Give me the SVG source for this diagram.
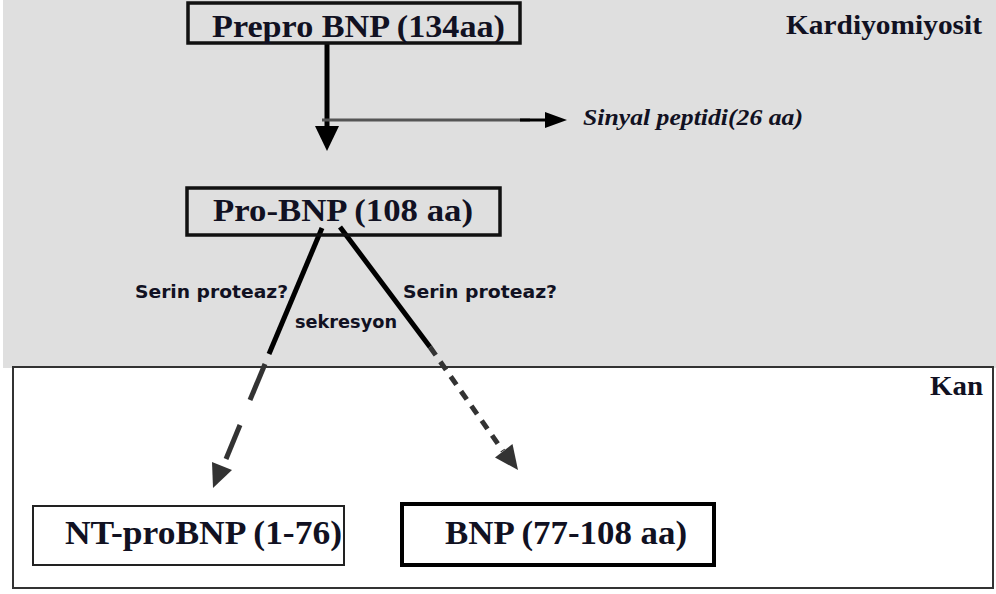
<svg xmlns="http://www.w3.org/2000/svg" width="996" height="594" viewBox="0 0 996 594">
  <style>
    .title { font-family: "Liberation Serif", "Times New Roman", serif; font-weight: bold; fill: #111122; }
    .note { font-family: "DejaVu Sans", "Liberation Sans", sans-serif; font-weight: bold; font-size: 17px; fill: #111122; }
    .box { fill: none; stroke: #111; }
    .solid { stroke: #000; stroke-width: 5; fill: none; }
    .dash { stroke: #333; stroke-width: 5; fill: none; }
    .head { fill: #000; }
    .headg { fill: #333; }
  </style>

  <!-- cell compartment (grey) and blood compartment (white frame) -->
  <rect x="3" y="0" width="993" height="368" fill="#dfdfdf"/>
  <rect id="blood" x="13" y="367" width="980" height="221" fill="#ffffff" stroke="#333" stroke-width="2"/>
  <text class="title" x="786" y="34" font-size="28" textLength="196" lengthAdjust="spacingAndGlyphs">Kardiyomiyosit</text>
  <text class="title" x="930" y="395" font-size="27" textLength="53" lengthAdjust="spacingAndGlyphs">Kan</text>

  <!-- connectors -->
  <g id="connectors">
    <!-- prepro -> pro -->
    <line class="solid" x1="327" y1="42" x2="327" y2="128"/>
    <polygon class="head" points="315,126 339,126 327,151"/>
    <!-- signal peptide branch -->
    <line x1="322" y1="120" x2="530" y2="120" stroke="#555" stroke-width="3"/>
    <line x1="520" y1="120" x2="547" y2="120" stroke="#000" stroke-width="3"/>
    <polygon class="head" points="545,112 545,128 567,120"/>
    <!-- pro -> NT-proBNP (dashed) -->
    <line class="solid" x1="322" y1="228" x2="269" y2="354"/>
    <line class="dash" x1="265" y1="364" x2="250" y2="400"/>
    <line class="dash" x1="240" y1="425" x2="226" y2="459"/>
    <polygon class="headg" points="232,470 212,462 213,488"/>
    <!-- pro -> BNP (dotted) -->
    <line class="solid" x1="340" y1="227" x2="430" y2="347"/>
    <path class="dash" d="M430,347 L503,451" stroke-width="6" stroke-dasharray="10 8"/>
    <polygon class="headg" points="512.5,444 495,457.5 518,470"/>
  </g>

  <!-- arrow labels -->
  <text class="title" x="583" y="125" font-size="23" font-style="italic" textLength="220" lengthAdjust="spacingAndGlyphs">Sinyal peptidi(26 aa)</text>
  <text class="note" x="135" y="298" textLength="153" lengthAdjust="spacingAndGlyphs">Serin proteaz?</text>
  <text class="note" x="295" y="328" textLength="102" lengthAdjust="spacingAndGlyphs">sekresyon</text>
  <text class="note" x="403" y="298" textLength="154" lengthAdjust="spacingAndGlyphs">Serin proteaz?</text>

  <!-- nodes -->
  <g id="prepro-bnp">
    <rect class="box" x="188" y="3" width="332" height="40" stroke-width="3.5"/>
    <text class="title" x="212" y="37" font-size="32" textLength="293" lengthAdjust="spacingAndGlyphs">Prepro BNP (134aa)</text>
  </g>
  <g id="pro-bnp">
    <rect class="box" x="187" y="188" width="313" height="47" stroke-width="3.5"/>
    <text class="title" x="213" y="221" font-size="32" textLength="260" lengthAdjust="spacingAndGlyphs">Pro-BNP (108 aa)</text>
  </g>
  <g id="nt-probnp">
    <rect x="33" y="506" width="311" height="59" fill="#fff" stroke="#222" stroke-width="2"/>
    <text class="title" x="65" y="544" font-size="34" textLength="277" lengthAdjust="spacingAndGlyphs">NT-proBNP (1-76)</text>
  </g>
  <g id="bnp">
    <rect x="402" y="504" width="312" height="61" fill="#fff" stroke="#000" stroke-width="4"/>
    <text class="title" x="445" y="544" font-size="34" textLength="242" lengthAdjust="spacingAndGlyphs">BNP (77-108 aa)</text>
  </g>
</svg>
